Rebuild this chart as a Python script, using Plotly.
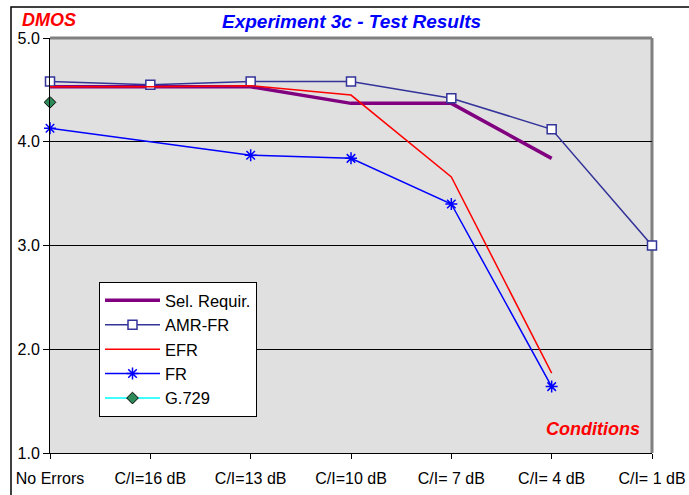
import plotly.graph_objects as go

categories = ["No Errors", "C/I=16 dB", "C/I=13 dB", "C/I=10 dB", "C/I= 7 dB", "C/I= 4 dB", "C/I= 1 dB"]
sel_requir = [4.53, 4.53, 4.53, 4.37, 4.37, 3.84, None]
amr_fr = [4.58, 4.55, 4.58, 4.58, 4.42, 4.12, 3.00]
efr = [4.53, 4.53, 4.54, 4.45, 3.66, 1.77, None]
fr = [4.13, None, 3.87, 3.84, 3.40, 1.64, None]
g729 = [4.38, None, None, None, None, None, None]
y_ticks = [1.0, 2.0, 3.0, 4.0, 5.0]

W, H = 689, 495
L, R, T, B = 50, 37, 38, 42
PW, PH = W - L - R, H - T - B


def px(x):
    return (x - L) / PW


def py(y):
    return (H - B - y) / PH


FONT = "Liberation Sans, Arial, sans-serif"

fig = go.Figure()
fig.add_trace(go.Scatter(x=categories, y=sel_requir, name="Sel. Requir.", mode="lines",
                         line=dict(color="#800080", width=3.5), cliponaxis=False))
fig.add_trace(go.Scatter(x=categories, y=amr_fr, name="AMR-FR", mode="lines+markers",
                         line=dict(color="#333399", width=1.5),
                         marker=dict(symbol="square", size=9, color="white",
                                     line=dict(color="#333399", width=1.5)),
                         cliponaxis=False))
fig.add_trace(go.Scatter(x=categories, y=efr, name="EFR", mode="lines",
                         line=dict(color="#FF0000", width=1.5), cliponaxis=False))
fig.add_trace(go.Scatter(x=categories, y=fr, name="FR", mode="lines+markers", connectgaps=True,
                         line=dict(color="#0000FF", width=1.5),
                         marker=dict(symbol="asterisk-open", size=10, color="#0000FF",
                                     line=dict(color="#0000FF", width=1.5)),
                         cliponaxis=False))
fig.add_trace(go.Scatter(x=categories, y=g729, name="G.729", mode="lines+markers",
                         line=dict(color="#00FFFF", width=1.5),
                         marker=dict(symbol="diamond", size=9, color="#2E8B57",
                                     line=dict(color="black", width=1)),
                         cliponaxis=False))

fig.update_layout(
    width=W, height=H,
    margin=dict(l=L, r=R, t=T, b=B, pad=0, autoexpand=False),
    paper_bgcolor="white",
    plot_bgcolor="#E0E0E0",
    font=dict(family=FONT, size=16, color="black"),
    showlegend=True,
    legend=dict(x=px(99), y=py(282), xanchor="left", yanchor="top",
                bgcolor="white", bordercolor="black", borderwidth=1,
                font=dict(size=16.5), itemwidth=55, tracegroupgap=0),
    xaxis=dict(type="category", range=[0, len(categories) - 1], automargin=False,
               showgrid=False, showline=True, linecolor="black", linewidth=1,
               ticks="outside", ticklen=5, tickcolor="black",
               ticklabelstandoff=6, zeroline=False, fixedrange=True),
    yaxis=dict(range=[1, 5], tickvals=y_ticks, tickformat=".1f", automargin=False,
               showgrid=True, gridcolor="black", gridwidth=1,
               showline=True, linecolor="black", linewidth=1,
               ticks="outside", ticklen=6, tickcolor="black",
               zeroline=False, fixedrange=True),
    annotations=[
        dict(text="Experiment 3c - Test Results", xref="paper", yref="paper",
             x=0.5, y=py(22), xanchor="center", yanchor="middle", showarrow=False,
             font=dict(family=FONT, size=19, color="#0000FF", weight="bold", style="italic")),
        dict(text="DMOS", xref="paper", yref="paper",
             x=px(49), y=py(20), xanchor="center", yanchor="middle", showarrow=False,
             font=dict(family=FONT, size=18, color="#FF0000", weight="bold", style="italic")),
        dict(text="Conditions", xref="paper", yref="paper",
             x=px(593), y=py(429), xanchor="center", yanchor="middle", showarrow=False,
             font=dict(family=FONT, size=18, color="#FF0000", weight="bold", style="italic")),
    ],
    shapes=[
        dict(type="line", xref="x domain", yref="y domain", x0=0, x1=1, y0=1, y1=1,
             line=dict(color="#808080", width=3), layer="below"),
        dict(type="line", xref="x domain", yref="y domain", x0=1, x1=1, y0=0, y1=1,
             line=dict(color="#808080", width=3), layer="below"),
        dict(type="rect", xref="paper", yref="paper", x0=px(11), x1=px(720), y0=py(520), y1=py(7),
             line=dict(color="black", width=1.5), fillcolor="rgba(0,0,0,0)", layer="above"),
    ],
)

fig.write_html("out.html", config={"displayModeBar": False},
               post_script="document.body.style.margin='0px';document.body.style.overflow='hidden';")
